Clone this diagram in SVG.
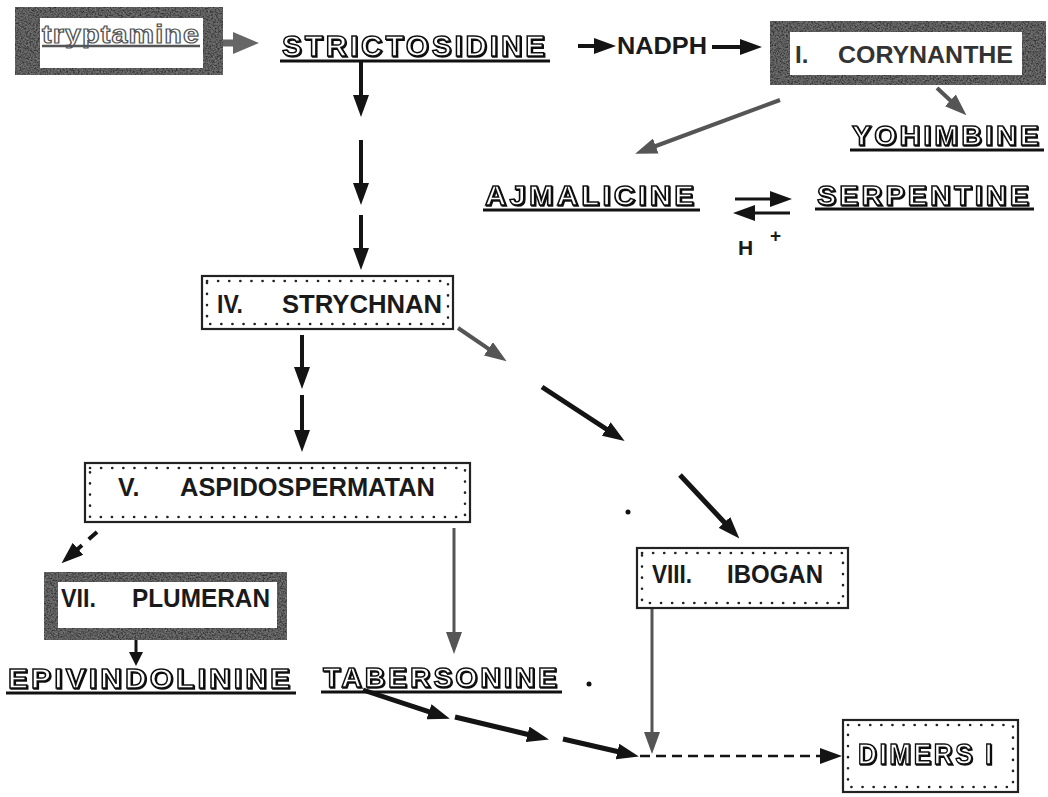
<svg xmlns="http://www.w3.org/2000/svg" width="1048" height="797" viewBox="0 0 1048 797">
<defs>
<style>
.frame{fill:#525252;filter:url(#tex)}
.inner{fill:#fff}
.dbox{fill:#fff;stroke:#222;stroke-width:2.2}
.dots{fill:none;stroke:#222;stroke-width:2.6;stroke-linecap:round;stroke-dasharray:0.1 11}
.lab{font-family:"Liberation Sans",Arial,sans-serif;font-weight:bold;fill:#1a1a1a}
.glab{font-family:"Liberation Sans",Arial,sans-serif;font-weight:bold;fill:#333}
.outl{font-family:"Liberation Sans",Arial,sans-serif;font-weight:bold;fill:#fff;stroke:#111;stroke-width:1.5;letter-spacing:3px;filter:url(#sh)}
.ul{stroke:#111;stroke-width:3}
.blk{fill:none;stroke:#141414;stroke-width:4}
.gry{fill:none;stroke:#555;stroke-width:4}
</style>
<filter id="sh" x="-5%" y="-20%" width="110%" height="140%">
<feOffset in="SourceAlpha" dx="1.2" dy="1.2" result="o"/>
<feFlood flood-color="#111"/>
<feComposite in2="o" operator="in" result="s"/>
<feMerge><feMergeNode in="s"/><feMergeNode in="SourceGraphic"/></feMerge>
</filter>
<filter id="tex" x="0" y="0" width="100%" height="100%">
<feTurbulence type="fractalNoise" baseFrequency="0.6" numOctaves="2" seed="4" result="n"/>
<feColorMatrix in="n" type="saturate" values="0" result="g"/>
<feComposite in="g" in2="SourceGraphic" operator="arithmetic" k1="0" k2="0.35" k3="0.75" k4="-0.12" result="c"/>
<feComposite in="c" in2="SourceGraphic" operator="in"/>
</filter>
<marker id="mb" markerUnits="userSpaceOnUse" markerWidth="22" markerHeight="16" refX="10" refY="8" orient="auto"><path d="M0,0 L22,8 L0,16 z" fill="#141414"/></marker>
<marker id="mg" markerUnits="userSpaceOnUse" markerWidth="22" markerHeight="16" refX="10" refY="8" orient="auto"><path d="M0,0 L22,8 L0,16 z" fill="#555"/></marker>
<marker id="mgb" markerUnits="userSpaceOnUse" markerWidth="26" markerHeight="22" refX="12" refY="11" orient="auto"><path d="M0,0 L26,11 L0,22 z" fill="#666"/></marker>
<marker id="ms" markerUnits="userSpaceOnUse" markerWidth="14" markerHeight="14" refX="6" refY="7" orient="auto"><path d="M0,0 L14,7 L0,14 z" fill="#141414"/></marker>
</defs>
<rect width="1048" height="797" fill="#fff"/>

<g id="connectors">
<path class="gry" style="stroke-width:7;stroke:#666" d="M223,43 L245,43" marker-end="url(#mgb)"/>
<path class="blk" d="M361,61 L361,105" marker-end="url(#mb)"/>
<path class="blk" d="M361,140 L361,193" marker-end="url(#mb)"/>
<path class="blk" d="M361,215 L361,258" marker-end="url(#mb)"/>
<path class="blk" d="M578,46 L604,46" marker-end="url(#mb)"/>
<path class="blk" d="M712,47 L750,47" marker-end="url(#mb)"/>
<path class="gry" d="M937,88 L957.7,107.2" marker-end="url(#mg)"/>
<path class="gry" d="M780,100 L646.4,149.5" marker-end="url(#mg)"/>
<path class="blk" style="stroke-width:3" d="M735,199 L780,199" marker-end="url(#mb)"/>
<path class="blk" style="stroke-width:3" d="M790,213 L745,213" marker-end="url(#mb)"/>
<path class="gry" d="M458,328 L496.7,354.4" marker-end="url(#mg)"/>
<path class="blk" style="stroke-width:5" d="M542,387 L614.6,434.5" marker-end="url(#mb)"/>
<path class="blk" style="stroke-width:5" d="M680,475 L731.2,529.7" marker-end="url(#mb)"/>
<path class="blk" d="M302,335 L302,377" marker-end="url(#mb)"/>
<path class="blk" d="M302,395 L302,440" marker-end="url(#mb)"/>
<path class="blk" style="stroke-dasharray:11 9" d="M97,532 L70.5,555.4" marker-end="url(#mb)"/>
<path class="gry" style="stroke-width:3" d="M454,528 L454,642" marker-end="url(#mg)"/>
<path class="blk" style="stroke-width:3" d="M136,640 L136,658" marker-end="url(#ms)"/>
<path class="blk" style="stroke-width:5" d="M363,690 L438.5,714.9" marker-end="url(#mb)"/>
<path class="blk" style="stroke-width:5" d="M455,717 L537.3,736.7" marker-end="url(#mb)"/>
<path class="blk" style="stroke-width:5" d="M563,739 L627.2,753.8" marker-end="url(#mb)"/>
<path class="gry" style="stroke-width:3" d="M652,608 L652,742" marker-end="url(#mg)"/>
<path class="blk" style="stroke-width:2.5;stroke-dasharray:10 6" d="M640,756 L830,756" marker-end="url(#mb)"/>
</g>

<g id="tryptamine">
<rect class="frame" x="15" y="7" width="208" height="68"/>
<rect class="inner" x="40" y="18" width="163" height="50"/>
<text class="outl" style="stroke:#555;stroke-width:1.2;filter:none;letter-spacing:1px" x="42" y="43" font-size="25" textLength="158" lengthAdjust="spacingAndGlyphs">tryptamine</text>
<line x1="42" y1="46" x2="200" y2="46" stroke="#555" stroke-width="2.5"/>
</g>

<g id="strictosidine">
<text class="outl" x="282" y="56" font-size="29" textLength="266" lengthAdjust="spacingAndGlyphs">STRICTOSIDINE</text>
<line class="ul" x1="280" y1="61" x2="550" y2="61"/>
</g>

<g id="nadph">
<text class="lab" x="617" y="54" font-size="23" textLength="90" lengthAdjust="spacingAndGlyphs">NADPH</text>
</g>

<g id="corynanthe">
<rect class="frame" x="770" y="21" width="276" height="64"/>
<rect class="inner" x="790" y="32" width="232" height="43"/>
<text class="glab" x="795" y="63" font-size="24">I.</text>
<text class="glab" x="838" y="63" font-size="24" textLength="175" lengthAdjust="spacingAndGlyphs">CORYNANTHE</text>
</g>

<g id="yohimbine">
<text class="outl" x="852" y="145" font-size="27" textLength="190" lengthAdjust="spacingAndGlyphs">YOHIMBINE</text>
<line class="ul" x1="850" y1="150" x2="1044" y2="150"/>
</g>

<g id="ajmalicine">
<text class="outl" x="485" y="205" font-size="27" textLength="212" lengthAdjust="spacingAndGlyphs">AJMALICINE</text>
<line class="ul" x1="483" y1="210" x2="700" y2="210"/>
</g>

<g id="serpentine">
<text class="outl" x="817" y="205" font-size="27" textLength="215" lengthAdjust="spacingAndGlyphs">SERPENTINE</text>
<line class="ul" x1="815" y1="209" x2="1034" y2="209"/>
</g>

<g id="hplus">
<text class="lab" x="738" y="255" font-size="21">H</text>
<text class="lab" x="770" y="242" font-size="19">+</text>
</g>

<g id="strychnan">
<rect class="dbox" x="202" y="276" width="251" height="53"/>
<rect class="dots" x="207" y="281" width="241" height="43"/>
<text class="lab" x="217" y="313" font-size="26" textLength="26" lengthAdjust="spacingAndGlyphs">IV.</text>
<text class="lab" x="282" y="313" font-size="26" textLength="160" lengthAdjust="spacingAndGlyphs">STRYCHNAN</text>
</g>

<g id="aspidospermatan">
<rect class="dbox" x="85" y="463" width="385" height="59"/>
<rect class="dots" x="90" y="468" width="375" height="49"/>
<text class="lab" x="118" y="496" font-size="25">V.</text>
<text class="lab" x="180" y="496" font-size="25" textLength="255" lengthAdjust="spacingAndGlyphs">ASPIDOSPERMATAN</text>
</g>

<g id="plumeran">
<rect class="frame" x="44" y="572" width="243" height="68"/>
<rect class="inner" x="58" y="582" width="219" height="46"/>
<text class="lab" x="61" y="607" font-size="25" textLength="35" lengthAdjust="spacingAndGlyphs">VII.</text>
<text class="lab" x="132" y="607" font-size="25" textLength="138" lengthAdjust="spacingAndGlyphs">PLUMERAN</text>
</g>

<g id="epivindolinine">
<text class="outl" x="8" y="688" font-size="28" textLength="285" lengthAdjust="spacingAndGlyphs">EPIVINDOLININE</text>
<line class="ul" x1="6" y1="693" x2="296" y2="693"/>
</g>

<g id="tabersonine">
<text class="outl" x="323" y="687" font-size="28" textLength="237" lengthAdjust="spacingAndGlyphs">TABERSONINE</text>
<line class="ul" x1="321" y1="692" x2="562" y2="692"/>
</g>

<g id="ibogan">
<rect class="dbox" x="637" y="548" width="211" height="60"/>
<rect class="dots" x="642" y="553" width="201" height="50"/>
<text class="lab" x="652" y="583" font-size="25" textLength="40" lengthAdjust="spacingAndGlyphs">VIII.</text>
<text class="lab" x="727" y="583" font-size="25" textLength="96" lengthAdjust="spacingAndGlyphs">IBOGAN</text>
</g>

<g id="dimers">
<rect class="dbox" x="843" y="720" width="175" height="72"/>
<rect class="dots" x="848" y="725" width="165" height="62"/>
<text class="outl" x="858" y="764" font-size="29" textLength="137" lengthAdjust="spacingAndGlyphs">DIMERS I</text>
</g>

<circle cx="628" cy="512" r="2.5" fill="#111"/>
<circle cx="589" cy="684" r="2.5" fill="#111"/>
</svg>
